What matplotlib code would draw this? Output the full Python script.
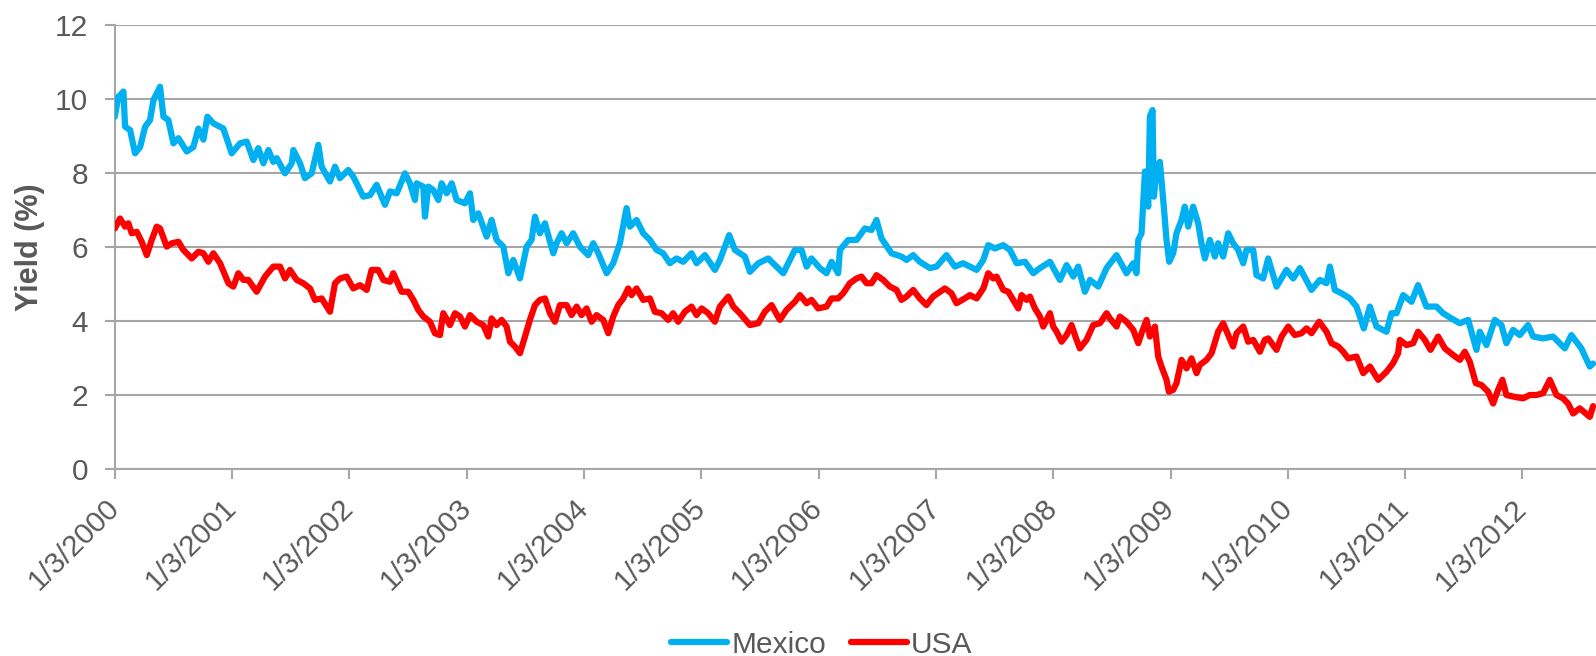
import numpy as np
import pandas as pd
import matplotlib
matplotlib.use("Agg")
import matplotlib.pyplot as plt

plt.rcParams['font.family'] = ['Liberation Sans', 'DejaVu Sans']

START = pd.Timestamp('2000-01-03')

# years elapsed since 1/3/2000, and yield in %
mex_t = [0.000, 0.031, 0.074, 0.088, 0.131, 0.173, 0.216, 0.259, 0.301, 0.330, 0.386, 0.415, 0.457,
         0.500, 0.543, 0.614, 0.670, 0.713, 0.756, 0.790, 0.841, 0.926, 0.997, 1.068, 1.125, 1.182,
         1.224, 1.267, 1.310, 1.352, 1.381, 1.452, 1.509, 1.523, 1.580, 1.622, 1.679, 1.736, 1.764,
         1.835, 1.878, 1.920, 1.991, 2.034, 2.119, 2.176, 2.233, 2.304, 2.347,
         2.404, 2.475, 2.517, 2.560, 2.574, 2.631, 2.645, 2.674, 2.716, 2.759, 2.787, 2.830, 2.873,
         2.915, 2.986, 3.029, 3.057, 3.100, 3.171, 3.213, 3.256, 3.313, 3.356, 3.398, 3.455, 3.512,
         3.554, 3.583, 3.625, 3.668, 3.739, 3.767, 3.810, 3.853, 3.909, 3.966, 4.037, 4.080, 4.123,
         4.194, 4.250, 4.307, 4.364, 4.392, 4.449, 4.506, 4.563, 4.620, 4.676, 4.733, 4.790, 4.847,
         4.918, 4.961, 5.032, 5.117, 5.160, 5.239, 5.288, 5.373, 5.416, 5.487, 5.572, 5.614, 5.700,
         5.799, 5.856, 5.899, 5.941, 6.012, 6.069, 6.112, 6.168, 6.183, 6.254, 6.325, 6.396, 6.453,
         6.495, 6.538, 6.623, 6.708, 6.751, 6.808, 6.864, 6.950, 7.007, 7.092, 7.163, 7.234,
         7.349, 7.406, 7.448, 7.505, 7.576, 7.633, 7.690, 7.761, 7.832, 7.889, 7.974, 8.059, 8.116,
         8.173, 8.215, 8.272, 8.315, 8.386, 8.457, 8.542, 8.627, 8.684, 8.712, 8.727, 8.755, 8.784,
         8.812, 8.826, 8.849, 8.860, 8.883, 8.911, 8.940, 8.968, 8.991, 9.025, 9.053, 9.096, 9.124,
         9.153, 9.195, 9.238, 9.266, 9.295, 9.337, 9.380, 9.408, 9.451, 9.494, 9.536, 9.579, 9.622,
         9.650, 9.707, 9.735, 9.792,
         9.835, 9.906, 9.991, 10.048, 10.105, 10.204, 10.275, 10.332, 10.361, 10.403, 10.460, 10.531,
         10.588, 10.650, 10.702, 10.758, 10.844, 10.886, 10.929, 10.986, 11.057, 11.113, 11.184,
         11.270, 11.326, 11.397, 11.469, 11.540, 11.611, 11.639, 11.696, 11.767, 11.824, 11.866,
         11.923, 11.980, 12.051, 12.094, 12.179, 12.264, 12.364, 12.420, 12.505, 12.577, 12.605]
mex_y = [9.52, 10.06, 10.2, 9.25, 9.16, 8.53, 8.7, 9.25, 9.43, 9.97, 10.33, 9.52, 9.43,
         8.8, 8.94, 8.58, 8.7, 9.2, 8.9, 9.52, 9.34, 9.2, 8.53, 8.8, 8.85, 8.35,
         8.67, 8.26, 8.62, 8.3, 8.4, 7.99, 8.26, 8.62, 8.26, 7.86, 7.99, 8.76, 8.17,
         7.77, 8.17, 7.86, 8.08, 7.9, 7.36, 7.4, 7.68, 7.14, 7.5,
         7.45, 7.99, 7.72, 7.27, 7.72, 7.63, 6.82, 7.63, 7.54, 7.27, 7.72, 7.45, 7.72,
         7.27, 7.18, 7.45, 6.73, 6.91, 6.28, 6.73, 6.19, 6.01, 5.29, 5.65, 5.15, 6.01,
         6.19, 6.82, 6.37, 6.64, 5.83, 6.1, 6.37, 6.1, 6.37, 6.01, 5.78, 6.1, 5.83,
         5.29, 5.56, 6.1, 7.05, 6.55, 6.73, 6.37, 6.19, 5.92, 5.83, 5.56, 5.69, 5.6,
         5.83, 5.56, 5.78, 5.38, 5.65, 6.32, 5.92, 5.74, 5.33, 5.56, 5.69, 5.56, 5.29,
         5.92, 5.92, 5.47, 5.69, 5.43, 5.29, 5.6, 5.29, 5.92, 6.19, 6.19, 6.5, 6.46,
         6.73, 6.23, 5.83, 5.74, 5.65, 5.78, 5.6, 5.43, 5.47, 5.78, 5.47, 5.56,
         5.38, 5.65, 6.05, 5.96, 6.05, 5.92, 5.56, 5.6, 5.29, 5.43, 5.6, 5.11, 5.51,
         5.2, 5.47, 4.79, 5.11, 4.93, 5.43, 5.78, 5.29, 5.56, 5.29, 6.19, 6.37, 8.04,
         7.09, 9.52, 9.7, 7.36, 8.08, 8.3, 7.27, 6.19, 5.6, 5.83, 6.37, 6.73, 7.09,
         6.55, 7.09, 6.64, 6.1, 5.69, 6.19, 5.74, 6.1, 5.74, 6.37, 6.1, 5.92, 5.56,
         5.92, 5.92, 5.24, 5.15,
         5.69, 4.93, 5.38, 5.15, 5.43, 4.84, 5.11, 5.02, 5.47, 4.84, 4.75, 4.61,
         4.39, 3.8, 4.39, 3.85, 3.71, 4.21, 4.21, 4.7, 4.52, 4.97, 4.39,
         4.39, 4.21, 4.07, 3.94, 4.03, 3.22, 3.71, 3.35, 4.03, 3.89, 3.4,
         3.76, 3.62, 3.89, 3.58, 3.53, 3.58, 3.26, 3.62, 3.26, 2.77, 2.85]

usa_t = [0.000, 0.045, 0.088, 0.116, 0.145, 0.188, 0.230, 0.273, 0.315, 0.358, 0.386, 0.443, 0.486,
         0.543, 0.585, 0.656, 0.713, 0.756, 0.798, 0.841, 0.898, 0.969, 1.011, 1.054, 1.097, 1.139,
         1.210, 1.281, 1.352, 1.409, 1.452, 1.494, 1.551, 1.608, 1.665, 1.707, 1.764, 1.835, 1.878,
         1.920, 1.977, 2.034, 2.091, 2.148, 2.190, 2.247, 2.290, 2.347,
         2.375, 2.446, 2.503, 2.546, 2.588, 2.631, 2.688, 2.730, 2.773, 2.801, 2.858, 2.901, 2.944,
         2.986, 3.029, 3.086, 3.142, 3.185, 3.213, 3.256, 3.299, 3.341, 3.370, 3.412, 3.455, 3.498,
         3.540, 3.583, 3.625, 3.668, 3.711, 3.753, 3.796, 3.853, 3.895, 3.938, 3.980, 4.023, 4.066,
         4.108, 4.165, 4.208, 4.250, 4.293, 4.336, 4.378, 4.406, 4.449, 4.506, 4.563, 4.605, 4.662,
         4.719, 4.761, 4.804, 4.861,
         4.918, 4.961, 5.004, 5.060, 5.117, 5.160, 5.231, 5.274, 5.330, 5.416, 5.487, 5.543, 5.600,
         5.671, 5.728, 5.799, 5.842, 5.899, 5.941, 5.998, 6.069, 6.112, 6.168, 6.211, 6.268, 6.325,
         6.367, 6.410, 6.453, 6.495, 6.552, 6.609, 6.666, 6.708, 6.751, 6.808, 6.864, 6.921, 6.978,
         7.078, 7.134, 7.177, 7.248, 7.291,
         7.349, 7.406, 7.448, 7.491, 7.519, 7.576, 7.619, 7.661, 7.704, 7.732, 7.775, 7.803, 7.846,
         7.889, 7.917, 7.974, 8.002, 8.031, 8.073, 8.116, 8.158, 8.201, 8.229, 8.286, 8.343, 8.400,
         8.457, 8.485, 8.542, 8.570, 8.627, 8.684, 8.727, 8.755, 8.798, 8.826, 8.869, 8.897, 8.925,
         8.968, 8.988, 9.025, 9.053, 9.096, 9.139, 9.181, 9.224, 9.252, 9.309, 9.352, 9.408, 9.451,
         9.494, 9.536, 9.565, 9.622, 9.664, 9.707, 9.764, 9.806,
         9.835, 9.906, 9.949, 10.006, 10.062, 10.119, 10.162, 10.204, 10.270, 10.332, 10.375, 10.432,
         10.474, 10.517, 10.588, 10.645, 10.702, 10.773, 10.844, 10.900, 10.943, 10.957, 11.014,
         11.071, 11.113, 11.170, 11.219, 11.284, 11.341, 11.412, 11.469, 11.511, 11.554, 11.605,
         11.653, 11.710, 11.753, 11.795, 11.832, 11.866, 11.937, 12.008, 12.065, 12.122, 12.179,
         12.236, 12.293, 12.349, 12.392, 12.435, 12.491, 12.577, 12.605]
usa_y = [6.5, 6.77, 6.55, 6.64, 6.37, 6.41, 6.14, 5.78, 6.19, 6.55, 6.5, 6.01, 6.1,
         6.14, 5.92, 5.69, 5.87, 5.83, 5.6, 5.83, 5.56, 5.02, 4.93, 5.29, 5.11, 5.11,
         4.79, 5.2, 5.47, 5.47, 5.15, 5.38, 5.11, 5.02, 4.88, 4.57, 4.61, 4.25, 5.02,
         5.15, 5.2, 4.88, 4.97, 4.84, 5.38, 5.38, 5.11, 5.06,
         5.29, 4.79, 4.79, 4.57, 4.3, 4.12, 3.98, 3.67, 3.62, 4.21, 3.89, 4.21, 4.12,
         3.85, 4.16, 3.98, 3.89, 3.58, 4.07, 3.89, 4.03, 3.85, 3.44, 3.31, 3.13, 3.58,
         4.03, 4.43, 4.57, 4.61, 4.21, 3.98, 4.43, 4.43, 4.16, 4.39, 4.16, 4.34, 3.98,
         4.16, 4.03, 3.67, 4.12, 4.43, 4.61, 4.88, 4.7, 4.88, 4.57, 4.61, 4.25, 4.21,
         4.03, 4.21, 3.98, 4.25,
         4.39, 4.16, 4.34, 4.21, 3.98, 4.39, 4.66, 4.39, 4.21, 3.89, 3.94, 4.25, 4.43,
         4.03, 4.3, 4.52, 4.7, 4.48, 4.57, 4.34, 4.39, 4.61, 4.61, 4.75, 5.02, 5.15,
         5.2, 5.02, 5.02, 5.24, 5.11, 4.93, 4.84, 4.57, 4.66, 4.84, 4.61, 4.43, 4.66,
         4.88, 4.75, 4.48, 4.61, 4.7,
         4.61, 4.88, 5.29, 5.15, 5.2, 4.84, 4.79, 4.57, 4.34, 4.7, 4.57, 4.66, 4.34,
         4.12, 3.85, 4.21, 3.85, 3.71, 3.44, 3.62, 3.89, 3.49, 3.26, 3.49, 3.89, 3.94,
         4.21, 4.07, 3.85, 4.12, 3.98, 3.76, 3.4, 3.67, 4.03, 3.58, 3.85, 3.04, 2.77,
         2.41, 2.09, 2.14, 2.32, 2.95, 2.72, 2.99, 2.59, 2.81, 2.95, 3.13, 3.71, 3.94,
         3.62, 3.31, 3.67, 3.85, 3.44, 3.49, 3.17, 3.49,
         3.53, 3.22, 3.58, 3.85, 3.62, 3.67, 3.8, 3.67, 3.98, 3.71, 3.4, 3.31,
         3.17, 2.99, 3.04, 2.59, 2.77, 2.41, 2.63, 2.86, 3.13, 3.49, 3.35,
         3.4, 3.71, 3.49, 3.22, 3.58, 3.26, 3.08, 2.95, 3.17, 2.9, 2.32,
         2.27, 2.09, 1.77, 2.14, 2.41, 2.0, 1.95, 1.91, 2.0, 2.0, 2.05,
         2.41, 2.0, 1.91, 1.77, 1.5, 1.64, 1.41, 1.7]

tick_years = list(range(2000, 2013))


def to_dates(t):
    return START + pd.to_timedelta(np.array(t) * 365.25, unit='D')


grey = '#A6A6A6'
text_col = '#595959'

fig = plt.figure(figsize=(15.96, 6.56), dpi=100)
ax = fig.add_axes([0.0719, 0.285, 0.9281, 0.677])

ax.plot(to_dates(mex_t), mex_y, color='#00B0F0', lw=4.5, solid_joinstyle='round',
        solid_capstyle='round', label='Mexico', zorder=3)
ax.plot(to_dates(usa_t), usa_y, color='#FF0000', lw=4.5, solid_joinstyle='round',
        solid_capstyle='round', label='USA', zorder=3)

ax.set_ylim(0, 12)
ax.set_yticks(range(0, 13, 2))
ax.set_xlim(START, START + pd.Timedelta(days=12.63 * 365.25))

ticks = [pd.Timestamp(f'{y}-01-03') for y in tick_years]
ax.set_xticks(ticks)
ax.set_xticklabels([f'1/3/{y}' for y in tick_years], rotation=45, ha='right',
                   va='center', rotation_mode='anchor')

ax.grid(axis='y', color=grey, lw=1.5, zorder=0)
for side in ['top', 'right']:
    ax.spines[side].set_visible(False)
for side in ['left', 'bottom']:
    ax.spines[side].set_color(grey)
    ax.spines[side].set_linewidth(1.5)
ax.tick_params(axis='both', colors=grey, width=1.5, length=7, labelcolor=text_col,
               labelsize=21.5)
ax.tick_params(axis='y', pad=12)
ax.tick_params(axis='x', pad=18)

ax.set_ylabel('Yield (%)', fontsize=22, fontweight='bold', color=text_col, labelpad=7)

fig.legend(loc='center', bbox_to_anchor=(0.515, 0.017), ncol=2, frameon=False,
           fontsize=21.5, handlelength=1.85, handletextpad=0.15, columnspacing=0.85,
           labelcolor=text_col)

fig.savefig('out.png', dpi=100)
